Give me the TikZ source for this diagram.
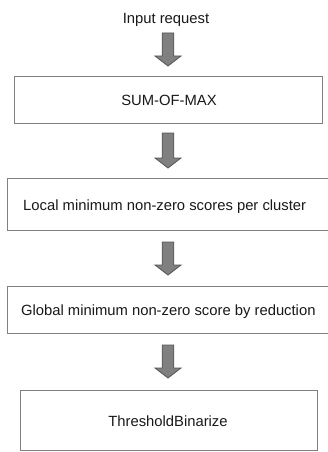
\documentclass[tikz,border=0pt]{standalone}
\usepackage{fontspec}
\setmainfont{Liberation Sans}
\usetikzlibrary{calc}
\definecolor{boxline}{RGB}{128,128,128}
\definecolor{arrfill}{RGB}{128,128,128}
\definecolor{arrline}{RGB}{85,85,85}
\definecolor{txtcol}{RGB}{25,25,25}
\begin{document}
\begin{tikzpicture}[x=1pt,y=-1pt,
  stepbox/.style={draw=boxline, line width=0.9pt, fill=white, inner sep=0pt},
  steptext/.style={font=\fontsize{14.8}{17}\selectfont, text=txtcol, inner sep=0pt, anchor=base},
  fatarrow/.style={draw=arrline, fill=arrfill, line width=0.8pt, line join=miter,
    to path={let \p1=(\tikztostart), \p2=(\tikztotarget) in
      (\x1-5.8pt,\y1) -- (\x1+5.8pt,\y1) -- (\x1+5.8pt,\y2+10pt) -- (\x1+13pt,\y2+10pt)
      -- (\x2,\y2) -- (\x1-13pt,\y2+10pt) -- (\x1-5.8pt,\y2+10pt) -- cycle}}
]
\useasboundingbox (0,0) rectangle (327,452);
\fill[white] (0,0) rectangle (327,452);

% boxes
\node[stepbox, minimum width=308pt, minimum height=47pt] (b1) at (168,99.5) {};
\node[stepbox, minimum width=333pt, minimum height=52pt] (b2) at (173.5,204) {};
\node[stepbox, minimum width=333pt, minimum height=47pt] (b3) at (173.5,309.5) {};
\node[stepbox, minimum width=296.3pt, minimum height=60pt] (b4) at (168.85,420) {};

% texts
\node[steptext] (t0) at (166,23.5) {Input request};
\node[steptext] (t1) at (169,105.5) {SUM-OF-MAX};
\node[steptext] (t2) at (164.7,210) {Local minimum non-zero scores per cluster};
\node[steptext] (t3) at (168.3,315.5) {Global minimum non-zero score by reduction};
\node[steptext] (t4) at (168,426) {ThresholdBinarize};

% arrow end points
\coordinate (a1s) at (168,33);  \coordinate (a1e) at (168,66);
\coordinate (a2s) at (168,133); \coordinate (a2e) at (168,168);
\coordinate (a3s) at (168,242); \coordinate (a3e) at (168,275);
\coordinate (a4s) at (168,345); \coordinate (a4e) at (168,378);

\draw[fatarrow] (a1s) to (a1e);
\draw[fatarrow] (a2s) to (a2e);
\draw[fatarrow] (a3s) to (a3e);
\draw[fatarrow] (a4s) to (a4e);
\end{tikzpicture}
\end{document}
